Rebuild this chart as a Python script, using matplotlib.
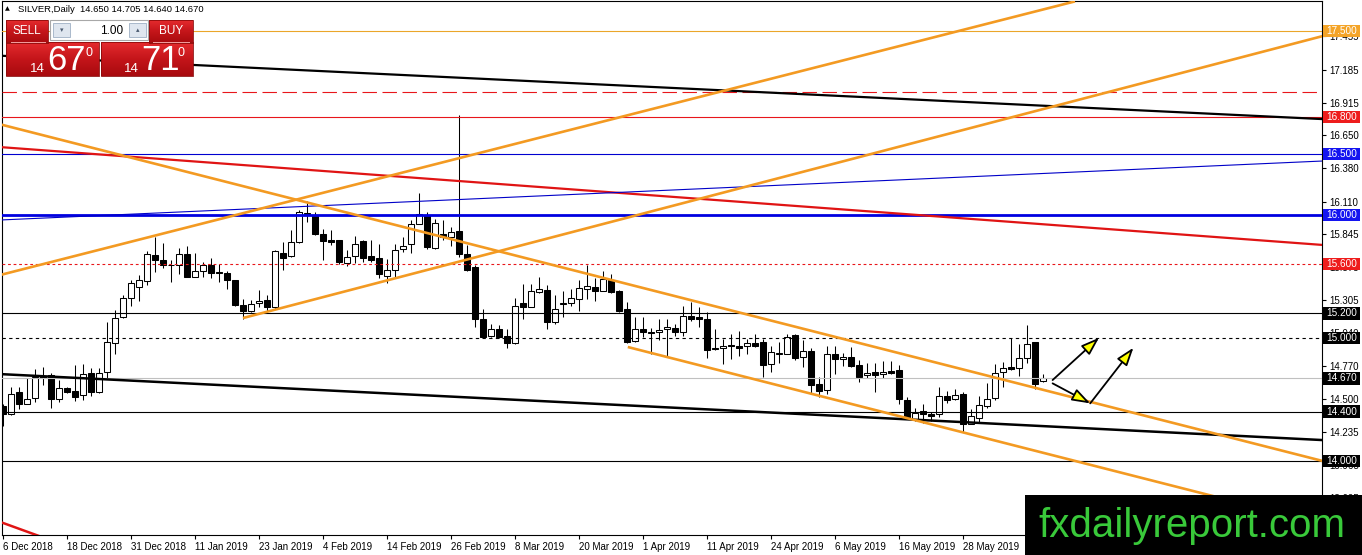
import matplotlib
matplotlib.use('Agg')
import matplotlib.pyplot as plt
import numpy as np
from matplotlib.patches import Rectangle
from matplotlib.colors import LinearSegmentedColormap
import matplotlib.transforms as mtransforms

plt.rcParams['font.family'] = ['Liberation Sans', 'DejaVu Sans']

W, H, DPI = 1362, 555, 100

# ---------------- data ----------------
date_labels = ['6 Dec 2018', '18 Dec 2018', '31 Dec 2018', '11 Jan 2019', '23 Jan 2019',
               '4 Feb 2019', '14 Feb 2019', '26 Feb 2019', '8 Mar 2019', '20 Mar 2019',
               '1 Apr 2019', '11 Apr 2019', '24 Apr 2019', '6 May 2019', '16 May 2019',
               '28 May 2019']
date_label_bars = [0, 8, 16, 24, 32, 40, 48, 56, 64, 72, 80, 88, 96, 104, 112, 120]

opens = [14.445, 14.380, 14.557, 14.464, 14.508, 14.690, 14.699, 14.500, 14.590, 14.568,
         14.535, 14.718, 14.562, 14.726, 14.955, 15.167, 15.326, 15.413, 15.462, 15.672,
         15.637, 15.596, 15.598, 15.686, 15.500, 15.549, 15.590, 15.535, 15.527, 15.468,
         15.271, 15.216, 15.285, 15.312, 15.255, 15.691, 15.664, 15.781, 16.010, 15.999,
         15.850, 15.800, 15.795, 15.609, 15.664, 15.789, 15.664, 15.653, 15.508, 15.555,
         15.721, 15.762, 15.931, 15.999, 15.735, 15.850, 15.822, 15.868, 15.686, 15.576,
         15.154, 15.018, 15.073, 15.018, 14.955, 15.282, 15.255, 15.372, 15.392, 15.127,
         15.280, 15.282, 15.318, 15.400, 15.413, 15.386, 15.468, 15.386, 15.236, 14.971,
         15.073, 15.050, 15.045, 15.072, 15.081, 15.045, 15.181, 15.168, 15.154, 14.917,
         14.917, 14.944, 14.936, 14.936, 14.955, 14.963, 14.786, 14.873, 14.873, 15.026,
         14.846, 14.895, 14.622, 14.574, 14.868, 14.827, 14.846, 14.780, 14.699, 14.723,
         14.704, 14.731, 14.737, 14.492, 14.336, 14.404, 14.382, 14.382, 14.527, 14.500,
         14.541, 14.303, 14.350, 14.445, 14.508, 14.726, 14.762, 14.754, 14.840, 14.963,
         14.650]
highs = [14.460, 14.600, 14.601, 14.677, 14.745, 14.764, 14.718, 14.655, 14.600, 14.780,
         14.786, 14.758, 14.758, 15.132, 15.228, 15.353, 15.473, 15.509, 15.707, 15.822,
         15.773, 15.637, 15.735, 15.746, 15.691, 15.617, 15.653, 15.604, 15.549, 15.475,
         15.318, 15.310, 15.392, 15.351, 15.719, 15.781, 15.876, 16.040, 16.116, 16.026,
         15.890, 15.882, 15.795, 15.713, 15.828, 15.795, 15.795, 15.768, 15.645, 15.768,
         15.822, 15.964, 16.182, 16.026, 15.972, 15.964, 15.904, 16.817, 15.754, 15.590,
         15.236, 15.114, 15.108, 15.073, 15.326, 15.441, 15.441, 15.500, 15.427, 15.353,
         15.380, 15.400, 15.468, 15.598, 15.490, 15.549, 15.522, 15.391, 15.296, 15.167,
         15.167, 15.081, 15.154, 15.154, 15.114, 15.263, 15.290, 15.255, 15.208, 15.073,
         14.991, 15.036, 15.059, 14.991, 15.036, 14.991, 14.936, 14.963, 15.036, 15.036,
         14.982, 14.917, 14.682, 14.936, 14.936, 14.881, 14.928, 14.819, 14.799, 14.799,
         14.813, 14.813, 14.780, 14.519, 14.431, 14.459, 14.398, 14.601, 14.568, 14.582,
         14.562, 14.418, 14.527, 14.636, 14.791, 14.808, 15.000, 14.950, 15.108, 14.963,
         14.705]
lows = [14.280, 14.375, 14.418, 14.459, 14.480, 14.617, 14.431, 14.480, 14.554, 14.486,
        14.492, 14.527, 14.554, 14.664, 14.873, 15.162, 15.263, 15.304, 15.427, 15.535,
        15.571, 15.454, 15.522, 15.494, 15.494, 15.494, 15.490, 15.454, 15.400, 15.263,
        15.154, 15.208, 15.249, 15.216, 15.236, 15.555, 15.658, 15.773, 15.945, 15.836,
        15.631, 15.754, 15.604, 15.582, 15.609, 15.617, 15.617, 15.490, 15.445, 15.494,
        15.699, 15.691, 15.926, 15.727, 15.727, 15.800, 15.746, 15.658, 15.549, 15.091,
        14.999, 15.004, 14.996, 14.917, 14.950, 15.154, 15.249, 15.364, 15.072, 15.114,
        15.167, 15.263, 15.216, 15.318, 15.304, 15.380, 15.364, 15.208, 14.955, 14.963,
        15.004, 14.873, 14.982, 14.846, 15.018, 15.018, 15.140, 15.086, 14.840, 14.900,
        14.791, 14.827, 14.854, 14.873, 14.928, 14.682, 14.726, 14.799, 14.868, 14.819,
        14.764, 14.546, 14.519, 14.541, 14.704, 14.772, 14.764, 14.644, 14.677, 14.562,
        14.677, 14.704, 14.464, 14.336, 14.322, 14.308, 14.322, 14.355, 14.472, 14.492,
        14.235, 14.295, 14.308, 14.431, 14.492, 14.600, 14.737, 14.690, 14.799, 14.581,
        14.640]
closes = [14.380, 14.546, 14.459, 14.500, 14.682, 14.671, 14.500, 14.590, 14.562, 14.521,
          14.704, 14.562, 14.718, 14.963, 15.162, 15.326, 15.446, 15.468, 15.680, 15.637,
          15.590, 15.590, 15.680, 15.500, 15.549, 15.590, 15.527, 15.530, 15.468, 15.271,
          15.216, 15.277, 15.304, 15.249, 15.707, 15.653, 15.781, 16.026, 16.015, 15.850,
          15.789, 15.781, 15.617, 15.658, 15.768, 15.653, 15.637, 15.517, 15.555, 15.719,
          15.751, 15.926, 16.013, 15.740, 15.936, 15.822, 15.860, 15.686, 15.555, 15.154,
          15.004, 15.073, 15.004, 14.955, 15.263, 15.249, 15.386, 15.400, 15.127, 15.236,
          15.284, 15.326, 15.408, 15.419, 15.386, 15.482, 15.372, 15.222, 14.963, 15.073,
          15.045, 15.040, 15.064, 15.091, 15.045, 15.181, 15.154, 15.157, 14.900, 14.906,
          14.936, 14.933, 14.922, 14.955, 14.938, 14.780, 14.889, 14.881, 15.010, 14.835,
          14.895, 14.617, 14.568, 14.868, 14.827, 14.846, 14.772, 14.682, 14.718, 14.696,
          14.723, 14.717, 14.500, 14.344, 14.390, 14.382, 14.363, 14.527, 14.492, 14.535,
          14.295, 14.363, 14.453, 14.500, 14.718, 14.754, 14.751, 14.835, 14.950, 14.627,
          14.670]

# horizontal levels
levels = [17.5, 17.0, 16.8, 16.5, 16.0, 15.6, 15.2, 15.0, 14.67, 14.4, 14.0]
level_colors = ['#eba62a', '#e8161b', '#e8161b', '#0000d0', '#0000e0', '#e8161b',
                'black', 'black', '#c0c0c0', 'black', 'black']
level_dash = ['solid', (0, (13, 5)), 'solid', 'solid', 'solid', (0, (2.5, 2.5)),
              'solid', (0, (3, 3)), 'solid', 'solid', 'solid']
level_width = [0.8, 0.8, 0.8, 0.8, 2.0, 0.8, 0.8, 0.8, 0.8, 0.8, 0.8]
level_box = ['#f4a428', None, '#ee1c1c', '#1414f0', '#1414f0', '#ee1c1c',
             'black', 'black', 'black', 'black', 'black']

# trend lines (bar index, price)
trend_x0 = [-0.5, -0.5, -0.5, -0.5, -0.5, 78.1, -0.5, 30.0, -0.5]
trend_p0 = [17.299, 14.706, 16.555, 15.960, 16.742, 14.926, 15.510, 15.162, 13.505]
trend_x1 = [165.0, 165.0, 165.0, 165.0, 165.0, 165.0, 134.0, 165.0, 5.0]
trend_p1 = [16.782, 14.168, 15.757, 16.441, 13.997, 13.484, 17.741, 17.459, 13.375]
trend_colors = ['black', 'black', '#e01414', '#0000c8', '#f39a22', '#f39a22', '#f39a22',
                '#f39a22', '#e01414']
trend_widths = [1.6, 1.8, 1.6, 0.8, 1.9, 1.9, 1.9, 1.9, 1.8]

# arrows (bar index, price)
arrow_x0 = [131.2, 131.2, 135.9]
arrow_p0 = [14.657, 14.630, 14.467]
arrow_x1 = [137.0, 135.9, 141.3]
arrow_p1 = [15.001, 14.467, 14.920]

yticks = [17.455, 17.185, 16.915, 16.650, 16.380, 16.110, 15.845, 15.575, 15.305,
          15.040, 14.770, 14.500, 14.235, 13.965, 13.695]

header = 'SILVER,Daily  14.650 14.705 14.640 14.670'

# ---------------- figure ----------------
fig = plt.figure(figsize=(W / DPI, H / DPI), dpi=DPI)
fig.patch.set_facecolor('white')

L_px, R_px, T_px, B_px = 2, 1322, 1, 535
ax = fig.add_axes([L_px / W, (H - B_px) / H, (R_px - L_px) / W, (B_px - T_px) / H])
ymin, ymax = 13.395, 17.744
ax.set_ylim(ymin, ymax)
ax.set_xlim((L_px - 3) / 8, (R_px - 3) / 8)
for s in ax.spines.values():
    s.set_color('black')
    s.set_linewidth(0.8)

# candles
idx = np.arange(len(opens))
o = np.array(opens); h = np.array(highs); l = np.array(lows); c = np.array(closes)
up = c >= o
ax.vlines(idx, l, h, color='black', lw=0.75, zorder=2)
bot = np.minimum(o, c)
hgt = np.maximum(np.abs(c - o), 0.005)
ax.bar(idx[up], hgt[up], bottom=bot[up], width=0.68, facecolor='white',
       edgecolor='black', lw=0.75, zorder=2.2)
ax.bar(idx[~up], hgt[~up], bottom=bot[~up], width=0.68, facecolor='black',
       edgecolor='black', lw=0.75, zorder=2.2)

# horizontal levels
for lv, col, ls, lw in zip(levels, level_colors, level_dash, level_width):
    ax.axhline(lv, color=col, ls=ls, lw=lw, zorder=3)

# trend lines
for x0, p0, x1, p1, col, lw in zip(trend_x0, trend_p0, trend_x1, trend_p1,
                                   trend_colors, trend_widths):
    ax.plot([x0, x1], [p0, p1], color=col, lw=lw, zorder=3.5, solid_capstyle='butt')

# arrows
for x0, p0, x1, p1 in zip(arrow_x0, arrow_p0, arrow_x1, arrow_p1):
    ax.annotate('', xy=(x1, p1), xytext=(x0, p0),
                arrowprops=dict(arrowstyle='-|>,head_length=1.1,head_width=0.38',
                                fc='#ffff00', ec='black', lw=1.3,
                                shrinkA=0, shrinkB=0), zorder=5)

# y axis on the right
ax.yaxis.tick_right()
ax.set_yticks(yticks)
ax.set_yticklabels(['%.3f' % v for v in yticks])
ax.tick_params(axis='y', direction='out', length=3, width=0.8, pad=2, labelsize=7,
               colors='black')

# x axis
ax.set_xticks(date_label_bars)
ax.set_xticklabels(date_labels, ha='left')
ax.tick_params(axis='x', direction='out', length=3, width=0.8, pad=2, labelsize=7)

# level label boxes on the right axis
blend = mtransforms.blended_transform_factory(ax.transAxes, ax.transData)
px_per_price = (B_px - T_px) / (ymax - ymin)
hh = 6.2 / px_per_price
bx0 = (1323 - L_px) / (R_px - L_px)
bw = 37 / (R_px - L_px)
for lv, bc in zip(levels, level_box):
    if bc is None:
        continue
    ax.add_patch(Rectangle((bx0, lv - hh), bw, 2 * hh, transform=blend,
                           facecolor=bc, edgecolor='none', clip_on=False, zorder=10))
    ax.text(bx0 + bw / 2, lv, '%.3f' % lv, transform=blend, ha='center', va='center',
            color='white', fontsize=7.2, clip_on=False, zorder=11)

# ---------------- overlay (trade panel, header, logo) ----------------
ov = fig.add_axes([0, 0, 1, 1], zorder=20)
ov.set_xlim(0, W)
ov.set_ylim(H, 0)
ov.axis('off')
ov.patch.set_alpha(0)

red_cmap = LinearSegmentedColormap.from_list('r', ['#e52b2e', '#c4151a', '#a80a0e'])
grad = np.linspace(0, 1, 64).reshape(-1, 1)


def red_box(x0, y0, w, hgt_):
    ov.imshow(grad, extent=[x0, x0 + w, y0 + hgt_, y0], cmap=red_cmap, aspect='auto',
              zorder=1, interpolation='bilinear')
    ov.add_patch(Rectangle((x0, y0), w, hgt_, facecolor='none', edgecolor='#8c0a0a',
                           lw=0.6, zorder=2))


red_box(6, 20, 42, 23)
red_box(149, 20, 44, 23)
red_box(6, 42, 93, 34)
red_box(101, 42, 92, 34)
ov.plot([11, 45], [41.5, 41.5], color='#f4a0a0', lw=0.7, zorder=3)
ov.plot([153, 189], [41.5, 41.5], color='#f4a0a0', lw=0.7, zorder=3)
ov.add_patch(Rectangle((50, 20), 98, 20, facecolor='white', edgecolor='#a8a8a8',
                       lw=0.8, zorder=2))
ov.add_patch(Rectangle((53, 23), 17, 14, facecolor='#dfe6ef', edgecolor='#9fb0c4',
                       lw=0.6, zorder=3))
ov.add_patch(Rectangle((129, 23), 17, 14, facecolor='#dfe6ef', edgecolor='#9fb0c4',
                       lw=0.6, zorder=3))
ov.text(61.5, 30, '\u25BE', fontsize=5, color='#4a5a70', ha='center', va='center',
        family=['DejaVu Sans'], zorder=4)
ov.text(137.5, 30, '\u25B4', fontsize=5, color='#4a5a70', ha='center', va='center',
        family=['DejaVu Sans'], zorder=4)
ov.text(123, 30.5, '1.00', fontsize=8.5, color='black', ha='right', va='center', zorder=4)

narrow = ['Liberation Sans Narrow', 'Liberation Sans', 'DejaVu Sans']
ov.text(27, 31, 'SELL', fontsize=8.5, color='white', ha='center', va='center',
        family=narrow, zorder=4)
ov.text(171, 31, 'BUY', fontsize=8.5, color='white', ha='center', va='center',
        family=narrow, zorder=4)
for x14, xbig, xsup, big in [(30, 47, 86, '67'), (124, 141, 178, '71')]:
    ov.text(x14, 72, '14', fontsize=9.5, color='white', ha='left', va='baseline',
            family=narrow, zorder=4)
    ov.text(xbig, 70, big, fontsize=25, color='white', ha='left', va='baseline',
            family=narrow, zorder=4)
    ov.text(xsup, 56, '0', fontsize=9, color='white', ha='left', va='baseline',
            family=narrow, zorder=4)

ov.text(5, 9, '\u25B2', fontsize=4.5, color='black', ha='left', va='center',
        family=['DejaVu Sans'], zorder=4)
ov.text(18, 9, header, fontsize=6.8, color='black', ha='left', va='center', zorder=4)

# logo
ov.add_patch(Rectangle((1025, 495), W - 1025, H - 495, facecolor='black',
                       edgecolor='none', zorder=5))
ov.text(1038, 537, 'fxdailyreport.com', fontsize=29, color='#39c93a', ha='left',
        va='baseline', zorder=6)

fig.savefig('out.png', dpi=DPI, facecolor='white')
